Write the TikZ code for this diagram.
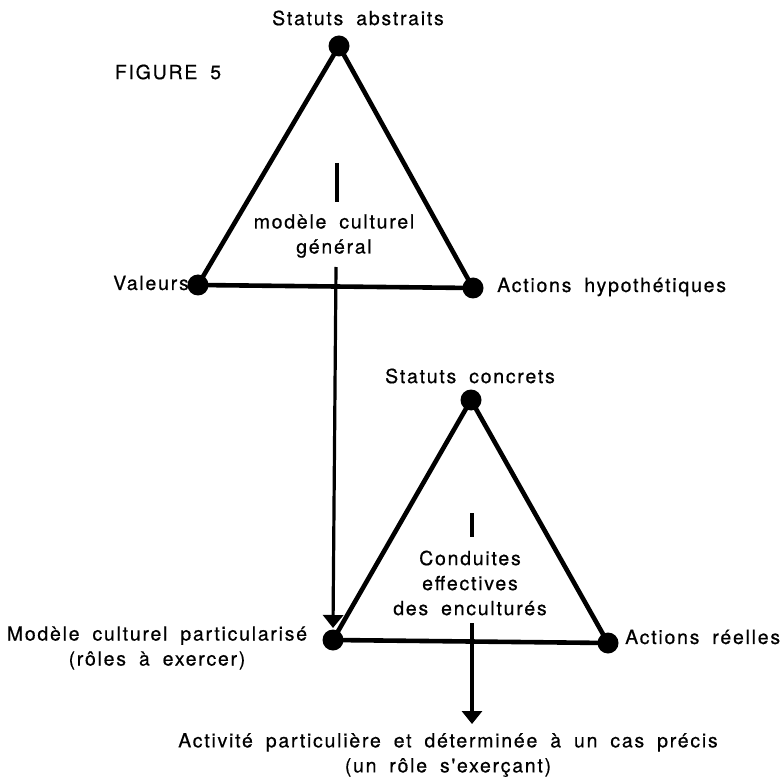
\documentclass[tikz,border=0pt]{standalone}
\usepackage{fontspec}
\setmainfont{TeX Gyre Heros}
\newfontfamily\labfont[LetterSpace=9,WordSpace=1.8,FakeBold=0.6]{TeX Gyre Heros}
\usetikzlibrary{arrows.meta}
\begin{document}
\begin{tikzpicture}[x=1pt,y=-1pt,
  dot/.style={circle,fill=black,inner sep=0pt,minimum size=21pt},
  side/.style={line width=4.6pt},
  tick/.style={line width=3.6pt},
  flow/.style={line width=3.2pt,-{Triangle[width=20pt,length=13pt]}},
  lab/.style={font=\labfont\fontsize{19.5}{25}\selectfont,inner sep=0pt,align=center}]
\useasboundingbox (0,0) rectangle (784,783);
% top triangle
\node[dot] (A1) at (339,46) {};
\node[dot] (B1) at (198,285) {};
\node[dot] (C1) at (473,288) {};
\draw[side] (A1.center) -- (B1.center) -- (C1.center) -- cycle;
% bottom triangle
\node[dot] (A2) at (471,400) {};
\node[dot] (B2) at (333,640) {};
\node[dot] (C2) at (608,643) {};
\draw[side] (A2.center) -- (B2.center) -- (C2.center) -- cycle;
% ticks
\coordinate (t1a) at (337,163);
\coordinate (t1b) at (337,202);
\draw[tick] (t1a) -- (t1b);
\coordinate (t2a) at (472,513);
\coordinate (t2b) at (472,537);
\draw[tick] (t2a) -- (t2b);
% arrows
\coordinate (f1a) at (336,267);
\coordinate (f1b) at (333,628);
\draw[flow] (f1a) -- (f1b);
\coordinate (f2a) at (472,623);
\coordinate (f2b) at (472,724);
\draw[flow] (f2a) -- (f2b);
% labels
\node[lab] (fig) at (168,72) {FIGURE 5};
\node[lab] (sa) at (358,18) {Statuts abstraits};
\node[lab] (mcg) at (334,236) {modèle culturel\\général};
\node[lab,anchor=east] (val) at (189,283) {Valeurs};
\node[lab,anchor=west] (ah) at (497,287) {Actions hypothétiques};
\node[lab] (sc) at (470,376) {Statuts concrets};
\node[lab] (ce) at (470,583) {Conduites\\effectives\\des enculturés};
\node[lab] (mcp) at (157,648) {Modèle culturel particularisé\\(rôles à exercer)};
\node[lab,anchor=west] (ar) at (625,637) {Actions réelles};
\node[lab] (act) at (448,755) {Activité particulière et déterminée à un cas précis\\(un rôle s'exerçant)};
\end{tikzpicture}
\end{document}
